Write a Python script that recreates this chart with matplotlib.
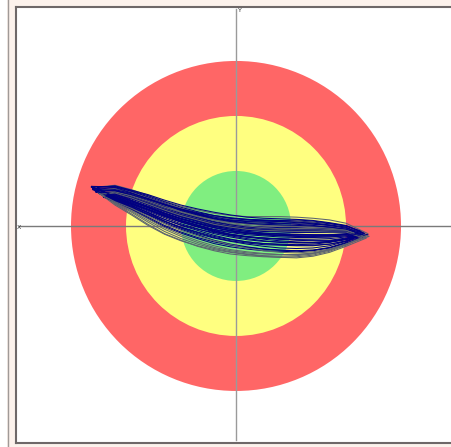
import numpy as np
import matplotlib
matplotlib.use("Agg")
import matplotlib.pyplot as plt
from matplotlib.patches import Circle, Rectangle

# target rings (radius in plot units)
ring_radius = [3.0, 2.0, 1.0]
ring_colors = ["#ff6666", "#ffff80", "#80ee80"]

# x stations where each loop's upper / lower path is sampled
station_x = [-2.2, -1.9, -1.6, -1.3, -1.0, -0.7, -0.4, -0.1, 0.2, 0.5, 0.8, 1.1, 1.4, 1.7, 2.0]

upper_y = [
    [0.74, 0.66, 0.56, 0.45, 0.36, 0.29, 0.23, 0.19, 0.17, 0.17, 0.17, 0.16, 0.14, 0.11, 0.05],
    [0.68, 0.60, 0.50, 0.38, 0.28, 0.20, 0.13, 0.08, 0.05, 0.03, 0.02, 0.01, 0.00, -0.02, -0.06],
    [0.62, 0.53, 0.42, 0.31, 0.21, 0.13, 0.05, 0.00, -0.04, -0.06, -0.07, -0.08, -0.08, -0.09, -0.10],
    [0.66, 0.57, 0.46, 0.35, 0.24, 0.16, 0.08, 0.03, 0.00, -0.02, -0.03, -0.03, -0.04, -0.05, -0.07],
    [0.60, 0.52, 0.41, 0.30, 0.20, 0.12, 0.04, -0.01, -0.05, -0.07, -0.08, -0.09, -0.09, -0.10, -0.11],
    [0.70, 0.62, 0.52, 0.40, 0.30, 0.23, 0.17, 0.14, 0.12, 0.11, 0.10, 0.09, 0.07, 0.04, 0.00],
    [0.63, 0.54, 0.43, 0.32, 0.22, 0.14, 0.06, 0.01, -0.03, -0.05, -0.06, -0.07, -0.07, -0.08, -0.09],
    [0.65, 0.55, 0.44, 0.33, 0.23, 0.15, 0.07, 0.02, -0.02, -0.04, -0.05, -0.06, -0.06, -0.07, -0.08],
    [0.59, 0.50, 0.39, 0.28, 0.18, 0.10, 0.02, -0.03, -0.07, -0.09, -0.10, -0.11, -0.11, -0.12, -0.12],
    [0.71, 0.63, 0.53, 0.42, 0.31, 0.22, 0.14, 0.09, 0.06, 0.05, 0.04, 0.04, 0.03, 0.01, -0.03],
    [0.57, 0.49, 0.38, 0.27, 0.17, 0.09, 0.01, -0.04, -0.08, -0.10, -0.11, -0.12, -0.12, -0.12, -0.12],
    [0.64, 0.56, 0.46, 0.36, 0.27, 0.19, 0.12, 0.07, 0.04, 0.02, 0.01, 0.00, -0.01, -0.03, -0.06],
    [0.61, 0.52, 0.41, 0.30, 0.20, 0.12, 0.04, -0.01, -0.05, -0.07, -0.08, -0.09, -0.10, -0.10, -0.10],
    [0.67, 0.58, 0.48, 0.37, 0.26, 0.18, 0.11, 0.06, 0.03, 0.01, 0.00, -0.01, -0.02, -0.04, -0.07],
    [0.73, 0.65, 0.57, 0.47, 0.38, 0.31, 0.25, 0.20, 0.16, 0.14, 0.13, 0.12, 0.10, 0.06, 0.01],
    [0.69, 0.61, 0.51, 0.41, 0.32, 0.25, 0.18, 0.12, 0.08, 0.06, 0.07, 0.08, 0.06, 0.02, -0.04],
    [0.58, 0.47, 0.35, 0.23, 0.13, 0.05, -0.03, -0.09, -0.13, -0.16, -0.18, -0.19, -0.20, -0.20, -0.18],
    [0.66, 0.59, 0.50, 0.40, 0.30, 0.21, 0.14, 0.10, 0.08, 0.07, 0.05, 0.03, 0.01, -0.02, -0.06],
    [0.62, 0.55, 0.45, 0.34, 0.25, 0.17, 0.10, 0.04, 0.00, -0.03, -0.05, -0.05, -0.05, -0.06, -0.08],
    [0.70, 0.60, 0.49, 0.38, 0.29, 0.22, 0.16, 0.11, 0.09, 0.09, 0.10, 0.11, 0.09, 0.05, 0.00],
    [0.56, 0.46, 0.35, 0.24, 0.14, 0.06, -0.01, -0.06, -0.10, -0.13, -0.14, -0.15, -0.16, -0.16, -0.15],
    [0.64, 0.57, 0.48, 0.39, 0.31, 0.24, 0.19, 0.15, 0.12, 0.10, 0.08, 0.06, 0.04, 0.01, -0.04],
    [0.60, 0.51, 0.40, 0.29, 0.19, 0.11, 0.03, -0.02, -0.06, -0.08, -0.09, -0.10, -0.10, -0.11, -0.11],
    [0.72, 0.64, 0.55, 0.44, 0.34, 0.26, 0.19, 0.14, 0.11, 0.09, 0.08, 0.07, 0.05, 0.02, -0.02],
]

lower_y = [
    [0.40, 0.22, 0.03, -0.14, -0.26, -0.37, -0.45, -0.51, -0.54, -0.56, -0.57, -0.56, -0.53, -0.46, -0.35],
    [0.45, 0.33, 0.20, 0.06, -0.06, -0.16, -0.26, -0.33, -0.38, -0.42, -0.44, -0.45, -0.44, -0.40, -0.32],
    [0.50, 0.40, 0.29, 0.17, 0.07, -0.01, -0.10, -0.16, -0.20, -0.22, -0.24, -0.25, -0.26, -0.26, -0.22],
    [0.48, 0.37, 0.25, 0.12, 0.01, -0.08, -0.17, -0.24, -0.29, -0.32, -0.33, -0.34, -0.33, -0.30, -0.25],
    [0.52, 0.42, 0.30, 0.19, 0.09, 0.01, -0.07, -0.12, -0.16, -0.18, -0.20, -0.21, -0.21, -0.20, -0.18],
    [0.47, 0.36, 0.24, 0.12, 0.02, -0.06, -0.12, -0.17, -0.20, -0.22, -0.23, -0.24, -0.24, -0.23, -0.20],
    [0.42, 0.27, 0.10, -0.06, -0.19, -0.30, -0.39, -0.45, -0.49, -0.51, -0.52, -0.52, -0.49, -0.43, -0.33],
    [0.50, 0.41, 0.31, 0.20, 0.10, 0.02, -0.06, -0.11, -0.14, -0.16, -0.17, -0.18, -0.19, -0.18, -0.16],
    [0.46, 0.34, 0.21, 0.08, -0.03, -0.12, -0.21, -0.27, -0.31, -0.34, -0.35, -0.36, -0.36, -0.33, -0.27],
    [0.52, 0.43, 0.33, 0.22, 0.12, 0.04, -0.03, -0.08, -0.12, -0.14, -0.15, -0.16, -0.16, -0.16, -0.14],
    [0.44, 0.30, 0.14, -0.01, -0.13, -0.23, -0.32, -0.38, -0.42, -0.45, -0.46, -0.47, -0.45, -0.40, -0.31],
    [0.55, 0.45, 0.34, 0.23, 0.13, 0.05, -0.03, -0.09, -0.13, -0.15, -0.17, -0.18, -0.18, -0.18, -0.16],
    [0.49, 0.39, 0.27, 0.15, 0.04, -0.05, -0.14, -0.20, -0.25, -0.28, -0.29, -0.30, -0.30, -0.28, -0.24],
    [0.43, 0.29, 0.13, -0.03, -0.16, -0.27, -0.36, -0.43, -0.47, -0.50, -0.52, -0.52, -0.50, -0.44, -0.34],
    [0.50, 0.38, 0.24, 0.09, -0.04, -0.14, -0.22, -0.28, -0.33, -0.37, -0.40, -0.41, -0.40, -0.36, -0.28],
    [0.41, 0.25, 0.07, -0.10, -0.23, -0.33, -0.41, -0.47, -0.51, -0.54, -0.55, -0.54, -0.51, -0.44, -0.33],
    [0.47, 0.35, 0.22, 0.09, -0.02, -0.11, -0.19, -0.25, -0.29, -0.32, -0.34, -0.35, -0.35, -0.33, -0.28],
    [0.53, 0.44, 0.33, 0.21, 0.10, 0.01, -0.08, -0.15, -0.20, -0.24, -0.27, -0.29, -0.30, -0.29, -0.24],
    [0.38, 0.20, 0.01, -0.15, -0.27, -0.36, -0.43, -0.48, -0.52, -0.55, -0.57, -0.58, -0.55, -0.48, -0.37],
    [0.49, 0.40, 0.29, 0.18, 0.07, -0.02, -0.11, -0.18, -0.23, -0.27, -0.30, -0.31, -0.31, -0.29, -0.24],
    [0.45, 0.31, 0.16, 0.01, -0.11, -0.21, -0.29, -0.35, -0.39, -0.42, -0.44, -0.45, -0.44, -0.39, -0.30],
    [0.51, 0.41, 0.30, 0.18, 0.08, -0.01, -0.09, -0.15, -0.19, -0.22, -0.24, -0.26, -0.27, -0.27, -0.23],
    [0.44, 0.32, 0.18, 0.04, -0.08, -0.18, -0.27, -0.34, -0.40, -0.45, -0.48, -0.49, -0.47, -0.42, -0.33],
    [0.54, 0.46, 0.36, 0.26, 0.16, 0.08, 0.00, -0.06, -0.10, -0.13, -0.15, -0.16, -0.17, -0.17, -0.15],
]

# turning points of each loop
tip_left = [(-2.60, 0.70), (-2.50, 0.62), (-2.45, 0.58), (-2.55, 0.66), (-2.40, 0.57),
            (-2.60, 0.68), (-2.50, 0.60), (-2.55, 0.62), (-2.42, 0.55), (-2.62, 0.72),
            (-2.40, 0.52), (-2.50, 0.64), (-2.45, 0.60), (-2.58, 0.66), (-2.52, 0.70),
            (-2.47, 0.63), (-2.38, 0.54), (-2.56, 0.64), (-2.44, 0.56), (-2.60, 0.66),
            (-2.36, 0.52), (-2.52, 0.66), (-2.48, 0.58), (-2.63, 0.71)]
tip_right = [(2.40, -0.14), (2.30, -0.20), (2.25, -0.16), (2.35, -0.17), (2.20, -0.15),
             (2.30, -0.12), (2.38, -0.18), (2.15, -0.13), (2.28, -0.18), (2.20, -0.10),
             (2.32, -0.20), (2.25, -0.12), (2.40, -0.16), (2.35, -0.20), (2.33, -0.13),
             (2.42, -0.19), (2.22, -0.22), (2.30, -0.15), (2.37, -0.22), (2.26, -0.09),
             (2.18, -0.19), (2.34, -0.14), (2.29, -0.21), (2.24, -0.15)]

grey_loops = [0, 6, 13, 15, 18, 22]

fig = plt.figure(figsize=(4.52, 4.47), dpi=100)
fig.patch.set_facecolor("#fcf2ec")

# window frame on the left edge
fig.add_artist(Rectangle((0, 0), 7 / 452, 1, transform=fig.transFigure,
                         facecolor="white", edgecolor="none"))
fig.add_artist(plt.Line2D([7.5 / 452, 7.5 / 452], [0, 1], transform=fig.transFigure,
                          color="#a09a98", lw=1.0))

ax = fig.add_axes([16 / 452, 4 / 447, 436 / 452, 436 / 447])
ax.set_facecolor("white")
ax.set_xlim(-4.0, 3.927)
ax.set_ylim(-3.945, 3.98)
ax.set_aspect("equal")
ax.set_xticks([])
ax.set_yticks([])
for side in ["left", "top", "bottom"]:
    ax.spines[side].set_color("#6e6868")
    ax.spines[side].set_linewidth(1.5)
ax.spines["right"].set_visible(False)

for r, c in zip(ring_radius, ring_colors):
    ax.add_patch(Circle((0, 0), r, facecolor=c, edgecolor="none", zorder=1))

# axis cross
ax.plot([-3.95, 3.927], [0, 0], color="#7a7a7a", lw=1.0, zorder=2)
ax.plot([0, 0], [-3.9, 3.95], color="#9a9a9a", lw=1.0, zorder=2)
ax.text(-3.98, -0.02, "X", fontsize=4.5, color="#333333", ha="left", va="center", zorder=3)
ax.text(0.03, 3.96, "Y", fontsize=4.5, color="#333333", ha="left", va="top", zorder=3)

for i in range(len(upper_y)):
    xs = [tip_left[i][0]] + station_x + [tip_right[i][0]] + station_x[::-1] + [tip_left[i][0]]
    ys = [tip_left[i][1]] + upper_y[i] + [tip_right[i][1]] + lower_y[i][::-1] + [tip_left[i][1]]
    col = "#5c6470" if i in grey_loops else "#000080"
    ax.plot(xs, ys, color=col, lw=0.75, zorder=4)

fig.savefig("out.png", dpi=100, facecolor=fig.get_facecolor())
